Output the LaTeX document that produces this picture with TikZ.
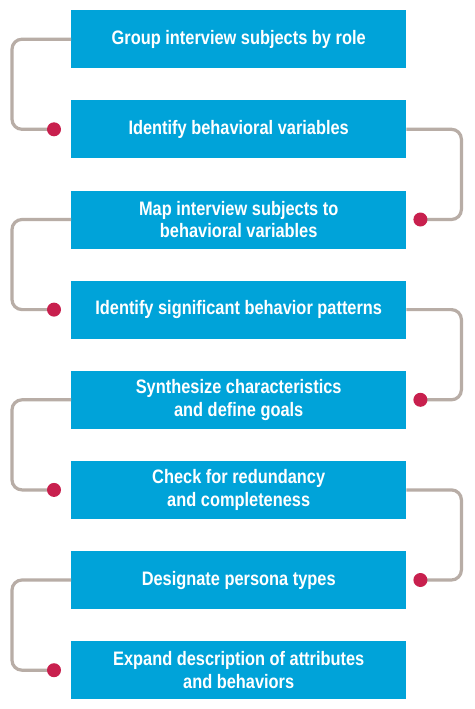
\documentclass[tikz,border=0pt]{standalone}
\usepackage{fontspec}
\setmainfont{Liberation Sans}[FakeStretch=0.84]
\definecolor{boxblue}{HTML}{00A3D9}
\definecolor{conngray}{HTML}{B8ADA6}
\definecolor{dotred}{HTML}{C8204E}
\tikzset{
  stepbox/.style={fill=boxblue, minimum width=335pt, minimum height=58pt, inner sep=0pt,
    text=white, font=\bfseries\fontsize{19.5}{22.5}\selectfont, align=center, anchor=north west},
  conn/.style={draw=conngray, line width=3.2pt, rounded corners=10pt},
  dotmark/.style={circle, fill=dotred, minimum size=14pt, inner sep=0pt}
}
\begin{document}
\begin{tikzpicture}[x=1pt,y=-1pt]
\useasboundingbox[fill=white] (0,0) rectangle (474,709);
\node[stepbox] (b0) at (71,10) {Group interview subjects by role};
\node[stepbox] (b1) at (71,100.1) {Identify behavioral variables};
\node[stepbox] (b2) at (71,190.3) {Map interview subjects to\\behavioral variables};
\node[stepbox] (b3) at (71,280.4) {Identify significant behavior patterns};
\node[stepbox] (b4) at (71,370.6) {Synthesize characteristics\\and define goals};
\node[stepbox] (b5) at (71,460.7) {Check for redundancy\\and completeness};
\node[stepbox] (b6) at (71,550.8) {Designate persona types};
\node[stepbox] (b7) at (71,641) {Expand description of attributes\\and behaviors};
% dots
\coordinate (d1) at ([xshift=-17pt]b1.west);
\coordinate (d2) at ([xshift=14pt]b2.east);
\coordinate (d3) at ([xshift=-17pt]b3.west);
\coordinate (d4) at ([xshift=14pt]b4.east);
\coordinate (d5) at ([xshift=-17pt]b5.west);
\coordinate (d6) at ([xshift=14pt]b6.east);
\coordinate (d7) at ([xshift=-17pt]b7.west);
% connectors
\draw[conn] (b0.west) -- ++(-59,0) |- (d1);
\draw[conn] (b1.east) -- ++(55,0) |- (d2);
\draw[conn] (b2.west) -- ++(-59,0) |- (d3);
\draw[conn] (b3.east) -- ++(55,0) |- (d4);
\draw[conn] (b4.west) -- ++(-59,0) |- (d5);
\draw[conn] (b5.east) -- ++(55,0) |- (d6);
\draw[conn] (b6.west) -- ++(-59,0) |- (d7);
\foreach \d in {d1,d2,d3,d4,d5,d6,d7} \node[dotmark] at (\d) {};
\end{tikzpicture}
\end{document}
